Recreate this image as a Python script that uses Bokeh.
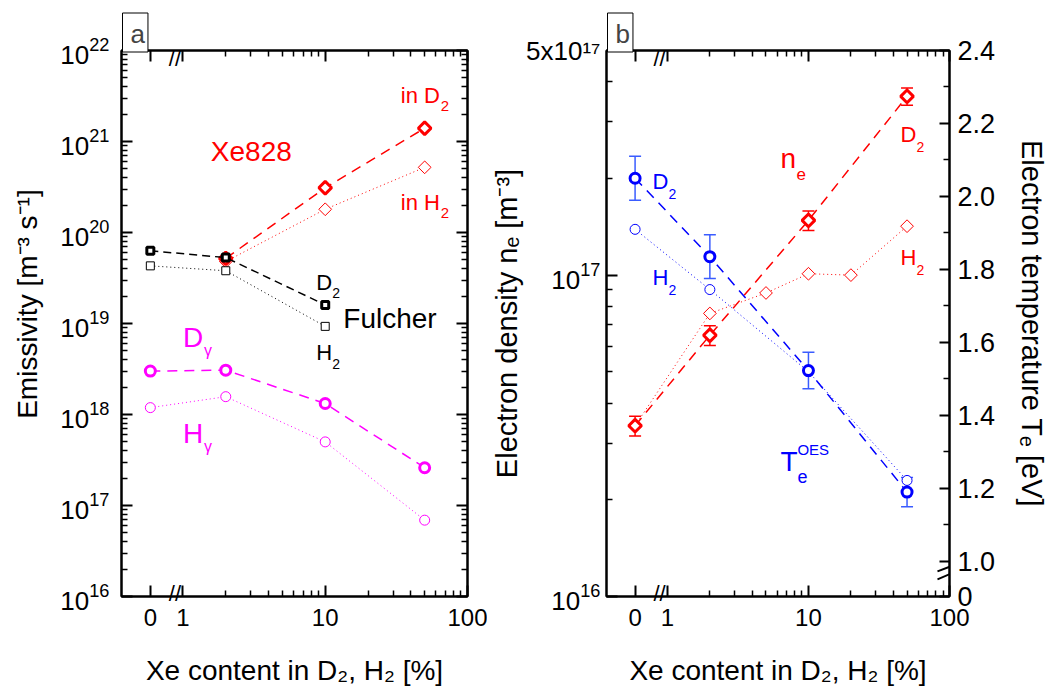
import math
from bokeh.plotting import figure
from bokeh.models import (Range1d, LogAxis, LinearAxis, FixedTicker, Label, Whisker,
                          TeeHead, ColumnDataSource, Arrow, LinearScale)
from bokeh.layouts import row
from bokeh.embed import file_html
from bokeh.resources import INLINE

FONT = "Liberation Sans"
RED, MAG, BLUE, BLACK = "#ff0000", "#ff00ff", "#0000ff", "#000000"
EBLUE = "#3a5cff"

# ---------------- data ----------------
# x = Xe content in D2 / H2 [%]
x_xe = [2, 10, 50]
xe828_d2 = [5.2e19, 3.1e20, 1.4e21]
xe828_h2 = [4.8e19, 1.8e20, 5.2e20]

x_fulcher = [0, 2, 10]
fulcher_d2 = [6.3e19, 5.3e19, 1.6e19]
fulcher_h2 = [4.3e19, 3.8e19, 9.3e18]

x_balmer = [0, 2, 10, 50]
d_gamma = [3.0e18, 3.07e18, 1.32e18, 2.6e17]
h_gamma = [1.19e18, 1.57e18, 5.0e17, 6.9e16]

x_ne_d2 = [0, 2, 10, 50]
ne_d2 = [3.4e16, 6.5e16, 1.48e17, 3.6e17]
ne_d2_err = [2.4e15, 4.6e15, 1.04e16, 2.2e16]
x_ne_h2 = [0, 2, 5, 10, 20, 50]
ne_h2 = [3.4e16, 7.6e16, 8.8e16, 1.01e17, 1.0e17, 1.42e17]

x_te = [0, 2, 10, 50]
te_d2 = [2.05, 1.835, 1.523, 1.19]
te_d2_err = [0.06, 0.06, 0.05, 0.04]
te_h2 = [1.91, 1.745, 1.52, 1.222]

# -------------- broken x axis --------------
ZERO_AT = 0.59          # position of x = 0 on the broken log axis
X_BREAK = 0.879         # where the "//" break sign sits
X_START, X_END = 0.37, 100

x_tick_values = [ZERO_AT, 1, 10, 100]
x_tick_labels = {ZERO_AT: "0", 1: "1", 10: "10", 100: "100"}
te_ticks = [0.905, 1.0, 1.2, 1.4, 1.6, 1.8, 2.0, 2.2, 2.4]
te_minor = [1.1, 1.3, 1.5, 1.7, 1.9, 2.1, 2.3]
te_tick_labels = {0.905: "0", 1.0: "1.0", 1.2: "1.2", 1.4: "1.4", 1.6: "1.6",
                  1.8: "1.8", 2.0: "2.0", 2.2: "2.2", 2.4: "2.4"}

X_LABEL = "Xe content in D\u2082, H\u2082 [%]"


def xb(xs):
    return [ZERO_AT if v == 0 else v for v in xs]


x_ticker = FixedTicker(ticks=x_tick_values,
                       minor_ticks=[k for k in range(2, 10)] + [10 * k for k in range(2, 10)])


def log_ticker(lo, hi):
    return FixedTicker(ticks=[float(f"1e{n}") for n in range(lo, hi + 1)],
                       minor_ticks=[k * float(f"1e{n}") for n in range(lo, hi) for k in range(2, 10)])


def tick_style(ax, major=11, minor=6):
    ax.axis_line_width = 2
    ax.axis_line_color = "black"
    ax.major_tick_in = major
    ax.major_tick_out = 0
    ax.minor_tick_in = minor
    ax.minor_tick_out = 0
    ax.major_tick_line_width = 2
    ax.minor_tick_line_width = 1.5


def label_style(ax, size="24px", label_size="28px"):
    ax.major_label_text_font = FONT
    ax.major_label_text_font_size = size
    ax.major_label_text_color = "black"
    ax.axis_label_text_font = FONT
    ax.axis_label_text_font_style = "normal"
    ax.axis_label_text_font_size = label_size
    ax.axis_label_text_color = "black"


def no_labels(ax):
    ax.major_label_text_font_size = "1px"
    ax.major_label_text_color = None
    ax.major_label_standoff = 0


def no_ticks(ax):
    ax.axis_line_color = None
    ax.major_tick_line_color = None
    ax.minor_tick_line_color = None
    ax.major_tick_in = 0
    ax.major_tick_out = 0
    ax.minor_tick_in = 0
    ax.minor_tick_out = 0


def tick_axis(cls, ticker, **kw):
    ax = cls(ticker=ticker, **kw)
    tick_style(ax)
    no_labels(ax)
    return ax


def break_axis(standoff):
    ax = LogAxis(ticker=FixedTicker(ticks=[X_BREAK], minor_ticks=[]))
    no_ticks(ax)
    ax.major_label_overrides = {X_BREAK: "//"}
    ax.major_label_text_font = FONT
    ax.major_label_text_font_size = "22px"
    ax.major_label_text_color = "black"
    ax.major_label_standoff = standoff
    return ax


def make_fig(y_range, frame_w, border_l, border_r, tag, label_size):
    p = figure(x_axis_type="log", y_axis_type="log",
               x_axis_location=None, y_axis_location=None,
               x_range=Range1d(X_START, X_END), y_range=y_range,
               frame_width=frame_w, frame_height=546,
               min_border_left=border_l, min_border_right=border_r,
               min_border_top=50, min_border_bottom=96,
               output_backend="svg", toolbar_location=None)
    p.xgrid.visible = False
    p.ygrid.visible = False
    p.outline_line_color = "black"
    p.outline_line_width = 2
    p.background_fill_color = "white"
    p.border_fill_color = "white"
    # bottom: ticks, break sign, tick labels + title
    p.add_layout(tick_axis(LogAxis, x_ticker), "below")
    p.add_layout(break_axis(-16), "below")
    lab = LogAxis(ticker=FixedTicker(ticks=x_tick_values, minor_ticks=[]))
    no_ticks(lab)
    label_style(lab, label_size=label_size)
    lab.major_label_overrides = x_tick_labels
    lab.major_label_standoff = 0
    lab.axis_label = X_LABEL
    lab.axis_label_standoff = 26
    p.add_layout(lab, "below")
    # top: mirrored ticks and break sign
    p.add_layout(tick_axis(LogAxis, x_ticker), "above")
    p.add_layout(break_axis(-20), "above")
    # panel tag
    p.title.text = tag
    p.title.align = "left"
    p.title.offset = 1
    p.title.text_font = FONT
    p.title.text_font_size = "26px"
    p.title.text_font_style = "normal"
    p.title.border_line_color = "black"
    p.title.border_line_width = 1
    p.title.background_fill_color = "white"
    p.title.padding = (8, 3, 6, 3)
    p.title.standoff = -19
    return p


def txt(p, x, y, s, color, size, dx=0, dy=0, rng="default"):
    # the 0.32*size lift puts the alphabetic baseline where it is read in the reference
    p.add_layout(Label(x=x, y=y, text=s, text_color=color, text_font=FONT,
                       text_font_size=f"{size}px", x_offset=dx, y_offset=dy + round(0.32 * size),
                       text_align="left", text_baseline="alphabetic", y_range_name=rng))


def marks(p, x, y, color, marker, size, lw, dash, line_w, rng="default", angle=0.0):
    p.line(xb(x), y, line_color=color, line_width=line_w, line_dash=dash, y_range_name=rng)
    p.scatter(xb(x), y, marker=marker, size=size, angle=angle, line_color=color,
              line_width=lw, fill_color="white", y_range_name=rng)


# ================= panel a =================
p1 = make_fig(Range1d(1e16, 1e22), 346, 121, 20, "a", "28px")
ya = LogAxis(ticker=log_ticker(16, 22))
tick_style(ya)
label_style(ya, size="26px", label_size="28px")
ya.axis_label = "\u00a0\u00a0\u00a0\u00a0\u00a0Emissivity [m\u207b\u00b3 s\u207b\u00b9]"
ya.major_label_standoff = 12
ya.axis_label_standoff = 14
p1.add_layout(ya, "left")
p1.add_layout(tick_axis(LogAxis, ya.ticker), "right")

DIAM = math.pi / 4
marks(p1, x_balmer, h_gamma, MAG, "circle", 10, 1, "1 3", 1)
marks(p1, x_balmer, d_gamma, MAG, "circle", 10, 3, "10 7", 1.5)
marks(p1, x_xe, xe828_h2, RED, "square", 9, 1, "1 3", 1, angle=DIAM)
marks(p1, x_xe, xe828_d2, RED, "square", 9, 3, "10 7", 1.5, angle=DIAM)
marks(p1, x_fulcher, fulcher_h2, BLACK, "square", 8, 1, "1 3", 1)
marks(p1, x_fulcher, fulcher_d2, BLACK, "square", 7, 3, "8 5", 1.5)

txt(p1, 1.57, 6.2e20, "Xe828", RED, 28)
txt(p1, 34.0, 2.7e21, "in D", RED, 22)
txt(p1, 34.0, 2.7e21, "2", RED, 15, dx=40, dy=-9)
txt(p1, 34.0, 1.8e20, "in H", RED, 22)
txt(p1, 34.0, 1.8e20, "2", RED, 15, dx=40, dy=-9)
txt(p1, 8.65, 2.37e19, "D", BLACK, 22)
txt(p1, 8.65, 2.37e19, "2", BLACK, 14, dx=16, dy=-8)
txt(p1, 8.65, 4.0e18, "H", BLACK, 22)
txt(p1, 8.65, 4.0e18, "2", BLACK, 14, dx=16, dy=-8)
txt(p1, 13.4, 9.0e18, "Fulcher", BLACK, 28)
txt(p1, 1.0, 5.6e18, "D", MAG, 28)
txt(p1, 1.0, 5.6e18, "\u03b3", MAG, 16, dx=21, dy=-9)
txt(p1, 1.0, 4.9e17, "H", MAG, 28)
txt(p1, 1.0, 4.9e17, "\u03b3", MAG, 16, dx=21, dy=-9)

# ================= panel b =================
p2 = make_fig(Range1d(1e16, 5e17), 343, 119, 106, "b", "28px")
yb = LogAxis(ticker=FixedTicker(ticks=[1e16, 1e17, 5e17],
                                minor_ticks=[k * 1e16 for k in range(2, 10)] + [k * 1e17 for k in range(2, 5)]))
tick_style(yb)
label_style(yb, size="26px", label_size="29px")
yb.major_label_overrides = {5e17: "5x10\u00b9\u2077"}
yb.axis_label = "Electron density n\u2091 [m\u207b\u00b3]"
yb.major_label_standoff = 6
yb.axis_label_standoff = 0
p2.add_layout(yb, "left")

p2.extra_y_ranges = {"te": Range1d(0.904, 2.4)}
p2.extra_y_scales = {"te": LinearScale()}
ax_te = LinearAxis(y_range_name="te", ticker=FixedTicker(ticks=te_ticks, minor_ticks=te_minor))
tick_style(ax_te, major=10, minor=6)
label_style(ax_te, size="27px", label_size="29px")
ax_te.major_label_overrides = te_tick_labels
ax_te.axis_label = "Electron temperature T\u2091 [eV]"
ax_te.major_label_standoff = 8
ax_te.axis_label_standoff = 18
p2.add_layout(ax_te, "right")

# error bars
src_ne = ColumnDataSource(dict(x=xb(x_ne_d2),
                               lo=[v - e for v, e in zip(ne_d2, ne_d2_err)],
                               hi=[v + e for v, e in zip(ne_d2, ne_d2_err)]))
p2.add_layout(Whisker(source=src_ne, base="x", lower="lo", upper="hi", dimension="height",
                      line_color=RED, line_width=1.5, level="underlay",
                      upper_head=TeeHead(size=12, line_color=RED, line_width=1.5),
                      lower_head=TeeHead(size=12, line_color=RED, line_width=1.5)))
src_te = ColumnDataSource(dict(x=xb(x_te),
                               lo=[v - e for v, e in zip(te_d2, te_d2_err)],
                               hi=[v + e for v, e in zip(te_d2, te_d2_err)]))
p2.add_layout(Whisker(source=src_te, base="x", lower="lo", upper="hi", dimension="height",
                      line_color=EBLUE, line_width=1.5, level="underlay", y_range_name="te",
                      upper_head=TeeHead(size=12, line_color=EBLUE, line_width=1.5),
                      lower_head=TeeHead(size=12, line_color=EBLUE, line_width=1.5)))

marks(p2, x_ne_h2, ne_h2, RED, "square", 9, 1, "1 3", 1, angle=DIAM)
marks(p2, x_te, te_h2, BLUE, "circle", 10, 1, "1 3", 1, rng="te")
marks(p2, x_ne_d2, ne_d2, RED, "square", 9, 3, "10 7", 1.5, angle=DIAM)
marks(p2, x_te, te_d2, BLUE, "circle", 10, 3, "10 7", 1.5, rng="te")

txt(p2, 0.783, 2.022, "D", BLUE, 22, rng="te")
txt(p2, 0.783, 2.022, "2", BLUE, 14, dx=16, dy=-10, rng="te")
txt(p2, 0.783, 1.759, "H", BLUE, 22, rng="te")
txt(p2, 0.783, 1.759, "2", BLUE, 14, dx=16, dy=-10, rng="te")
txt(p2, 6.33, 2.17e17, "n", RED, 28)
txt(p2, 6.33, 2.17e17, "e", RED, 17, dx=16, dy=-12)
txt(p2, 44.9, 2.61e17, "D", RED, 22)
txt(p2, 44.9, 2.61e17, "2", RED, 14, dx=16, dy=-10)
txt(p2, 44.9, 1.08e17, "H", RED, 22)
txt(p2, 44.9, 1.08e17, "2", RED, 14, dx=16, dy=-10)
txt(p2, 6.33, 1.249, "T", BLUE, 28, rng="te")
txt(p2, 6.33, 1.249, "e", BLUE, 18, dx=17, dy=-12, rng="te")
txt(p2, 6.33, 1.249, "OES", BLUE, 15, dx=17, dy=16, rng="te")

# break of the temperature axis
for y0, y1 in ((0.951, 0.978), (0.973, 0.997)):
    p2.add_layout(Arrow(end=None, x_start=82.2, y_start=y0, x_end=119.7, y_end=y1,
                        line_color="black", line_width=2, y_range_name="te"))

layout = row(p1, p2)
open("out.html", "w").write(file_html(layout, INLINE))
